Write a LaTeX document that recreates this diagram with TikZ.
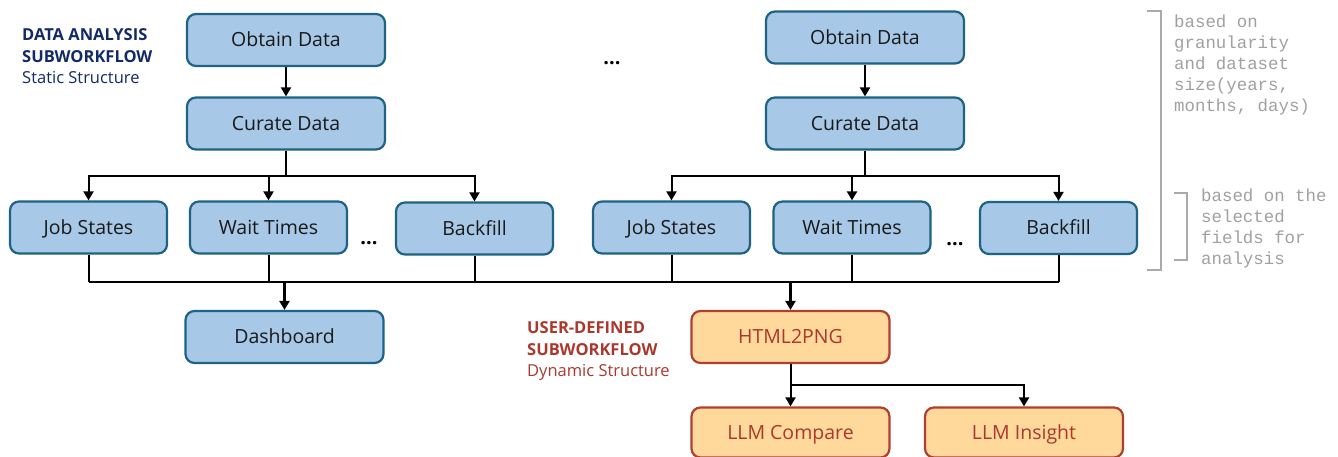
\documentclass[tikz,border=0pt]{standalone}
\usepackage{fontspec}
\setmainfont{Open Sans}
\newfontfamily\monof{Liberation Mono}
\usetikzlibrary{arrows.meta,calc}
\definecolor{bfill}{RGB}{167,200,230}
\definecolor{bdraw}{RGB}{30,98,132}
\definecolor{ofill}{RGB}{255,216,155}
\definecolor{odraw}{RGB}{178,62,48}
\definecolor{otext}{RGB}{170,56,44}
\definecolor{navy}{RGB}{18,42,102}
\definecolor{gtext}{RGB}{160,160,160}
\definecolor{gline}{RGB}{170,170,170}
\tikzset{
  box/.style={draw=bdraw, fill=bfill, line width=2.2pt, rounded corners=9pt,
    minimum width=198pt, minimum height=52pt, inner sep=0pt, text=black!90,
    text height=13.9pt, text depth=0pt,
    font=\fontsize{19.5pt}{22pt}\selectfont},
  sbox/.style={box, minimum width=157pt},
  obox/.style={box, draw=odraw, fill=ofill, text=otext},
  conn/.style={line width=2pt, draw=black},
  trunk/.style={line width=2.8pt, draw=black},
  arr/.style={conn, -{Triangle[width=10pt,length=9pt]}},
  dots/.style={font=\fontsize{20pt}{22pt}\selectfont\bfseries, inner sep=0pt},
  monotext/.style={text=gtext, align=left, anchor=north west, inner sep=0pt,
    font=\monof\fontsize{17.4pt}{21pt}\selectfont},
  brk/.style={draw=gline, line width=2.4pt},
  grouplabel/.style={align=left, anchor=north west, inner sep=0pt,
    font=\fontsize{16.5pt}{21.5pt}\selectfont}
}
\begin{document}
\begin{tikzpicture}[x=1pt,y=-1pt]
\useasboundingbox (0,0) rectangle (1338,457);

% group labels
\node[grouplabel, text=navy] (lblA) at (22,28.5)
  {\textbf{DATA ANALYSIS}\\\textbf{SUBWORKFLOW}\\Static Structure};
\node[grouplabel, text=otext] (lblU) at (527,321.5)
  {\textbf{USER-DEFINED}\\\textbf{SUBWORKFLOW}\\Dynamic Structure};

% left group
\node[box] (obL) at (286,40) {Obtain Data};
\node[box] (cuL) at (286,123.5) {Curate Data};
\node[sbox] (jsL) at (88.5,227.5) {Job States};
\node[sbox] (wtL) at (268.5,227.5) {Wait Times};
\node[sbox] (bfL) at (474.5,228.5) {Backfill};
\node[dots] (dtL) at (369,243) {...};

% middle dots
\node[dots] (dtM) at (612,63) {...};

% right group
\node[box] (obR) at (865,37.5) {Obtain Data};
\node[box] (cuR) at (865,123.5) {Curate Data};
\node[sbox] (jsR) at (671.5,227.5) {Job States};
\node[sbox] (wtR) at (852,227.5) {Wait Times};
\node[sbox] (bfR) at (1058.5,228) {Backfill};
\node[dots] (dtR) at (955,244) {...};

% outputs
\node[box] (dash) at (284.5,337) {Dashboard};
\node[obox] (html) at (790.5,337) {HTML2PNG};
\node[obox, minimum height=50pt] (cmp) at (790.5,432.5) {LLM Compare};
\node[obox, minimum height=50pt] (ins) at (1024,432.5) {LLM Insight};

% coordinates
\coordinate (tL) at (286,176);
\coordinate (tR) at (865,176);
\coordinate (busY) at (0,282);
\coordinate (brY) at (0,385);

% left connectors
\draw[arr] (obL) -- (cuL);
\draw[trunk] (cuL.south) -- (tL);
\draw[arr] (tL) -| (jsL.north);
\draw[arr] (tL) -| (wtL.north);
\draw[arr] (tL) -| (bfL.north);

% right connectors
\draw[arr] (obR) -- (cuR);
\draw[trunk] (cuR.south) -- (tR);
\draw[arr] (tR) -| (jsR.north);
\draw[arr] (tR) -| (wtR.north);
\draw[arr] (tR) -| (bfR.north);

% bottom bus
\draw[conn] (jsL.south) -- (jsL.south |- busY);
\draw[conn] (wtL.south) -- (wtL.south |- busY);
\draw[conn] (bfL.south) -- (bfL.south |- busY);
\draw[conn] (jsR.south) -- (jsR.south |- busY);
\draw[conn] (wtR.south) -- (wtR.south |- busY);
\draw[conn] (bfR.south) -- (bfR.south |- busY);
\draw[trunk] (jsL.south |- busY) -- (bfR.south |- busY);
\draw[arr, line width=2.6pt] (dash.north |- busY) -- (dash.north);
\draw[arr, line width=2.6pt] (html.north |- busY) -- (html.north);

% LLM branch
\draw[arr] (html.south) -- (cmp.north);
\draw[arr] (html.south |- brY) -| (ins.north);

% brackets
\draw[brk] (1147,11) -- (1161,11) -- (1161,270) -- (1147,270);
\draw[brk] (1174,193) -- (1187,193) -- (1187,260) -- (1174,260);
\node[monotext] (noteA) at (1174,15)
  {based on\\granularity\\and dataset\\size(years,\\months, days)};
\node[monotext] (noteB) at (1201,189)
  {based on the\\selected\\fields for\\analysis};
\end{tikzpicture}
\end{document}
